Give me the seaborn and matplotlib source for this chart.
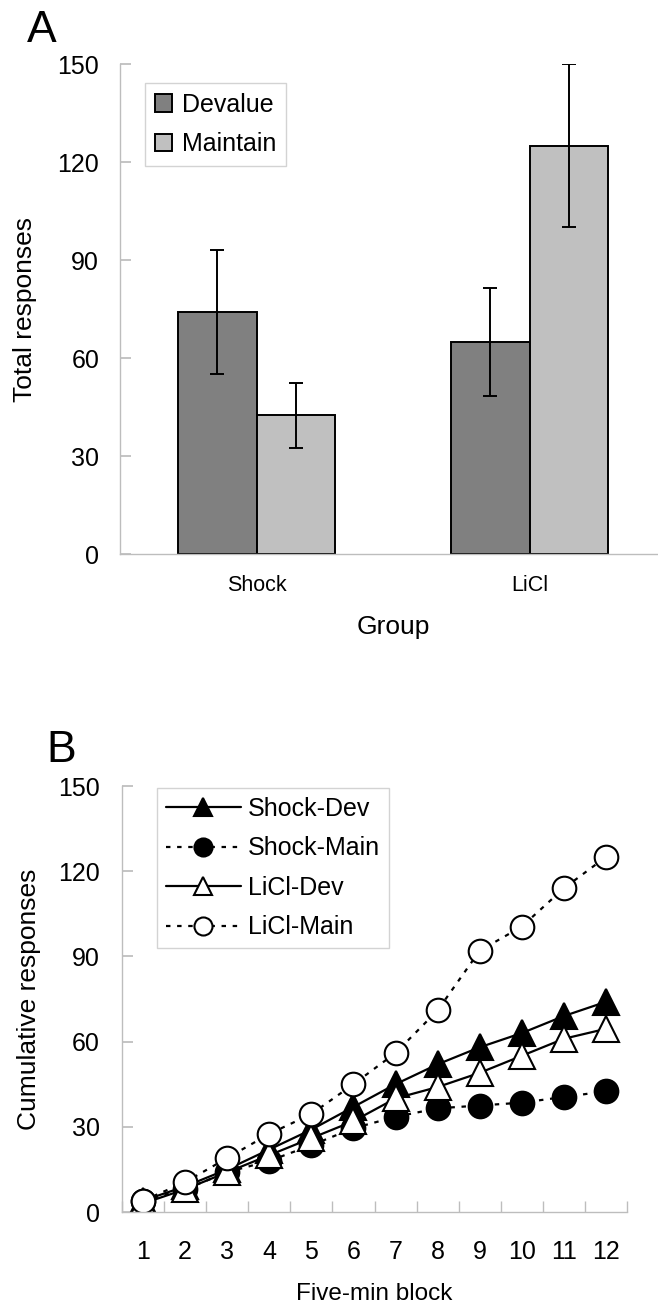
import numpy as np
import pandas as pd
import matplotlib
matplotlib.use("Agg")
import matplotlib.pyplot as plt
import seaborn as sns

# ---------------- data ----------------
groups = ["Shock", "LiCl"]
conditions = ["Devalue", "Maintain"]
total_dev = [74.0, 65.0]
total_main = [42.5, 125.0]
sem_dev = [19.0, 16.5]
sem_main = [10.0, 25.0]

blocks = list(range(1, 13))
shock_dev = [4, 9, 15, 22, 29, 37, 45, 52, 58, 63, 69, 74]
shock_main = [4, 8, 14, 18, 23.5, 29.5, 33.5, 36.5, 37.5, 38.5, 40.5, 42.5]
licl_dev = [3, 8, 14, 20, 26, 32, 40, 44, 49, 55, 61, 64.5]
licl_main = [4, 10.5, 19, 27.5, 34.5, 45, 56, 71, 92, 100.5, 114, 125]
series_names = ["Shock-Dev", "Shock-Main", "LiCl-Dev", "LiCl-Main"]

yticks = [0, 30, 60, 90, 120, 150]

# ---------------- style ----------------
sns.set_theme(style="white")
plt.rcParams["font.family"] = ["Liberation Sans", "DejaVu Sans"]
plt.rcParams["text.color"] = "black"
plt.rcParams["axes.labelcolor"] = "black"
plt.rcParams["xtick.color"] = "black"
plt.rcParams["ytick.color"] = "black"
spine_col = "#bdbdbd"

W, H = 658, 1308
fig = plt.figure(figsize=(W / 100, H / 100), dpi=100)

def fx(px):
    return px / W

def fy(py):
    return 1 - py / H

# ---------------- Panel A ----------------
axL, axR, axT, axB = 120, 666, 64, 554
axA = fig.add_axes([fx(axL), fy(axB), fx(axR - axL), (axB - axT) / H])

df_a = pd.DataFrame({
    "Group": groups * 2,
    "Condition": [conditions[0]] * 2 + [conditions[1]] * 2,
    "Total": total_dev + total_main,
    "SEM": sem_dev + sem_main,
})
sns.barplot(data=df_a, x="Group", y="Total", hue="Condition", order=groups,
            hue_order=conditions, palette=["#808080", "#c0c0c0"],
            width=0.575, errorbar=None, edgecolor="black", linewidth=1.4,
            saturation=1, ax=axA)

# error bars at the centres of the bars seaborn drew
bars = [p for p in axA.patches if p.get_height() > 0]
for p in bars:
    cx = p.get_x() + p.get_width() / 2
    h = p.get_height()
    row = df_a.loc[np.isclose(df_a["Total"], h)].iloc[0]
    axA.errorbar(cx, h, yerr=row["SEM"], color="black", elinewidth=1.4,
                 capsize=5, capthick=1.4, fmt="none", zorder=5)

axA.set_xlim(-0.5, 1.5)
axA.set_ylim(0, 150)
axA.set_yticks(yticks)
axA.tick_params(axis="y", direction="in", length=8, color=spine_col,
                labelsize=18, pad=15, left=True, labelcolor="black")
axA.tick_params(axis="x", length=0, labelsize=15.5, pad=15, labelcolor="black")
for s in ["top", "right"]:
    axA.spines[s].set_visible(False)
for s in ["left", "bottom"]:
    axA.spines[s].set_color(spine_col)
    axA.spines[s].set_linewidth(1.0)
axA.set_ylabel("Total responses", fontsize=19, color="black")
axA.yaxis.set_label_coords(-0.152, 0.5)
axA.set_xlabel("Group", fontsize=19, labelpad=14, color="black")
leg = axA.legend(loc="upper left", bbox_to_anchor=(0.045, 0.962), fontsize=18,
                 frameon=True, fancybox=False, edgecolor="#c8c8c8",
                 handlelength=0.7, handleheight=0.7, handletextpad=0.4,
                 borderpad=0.4, labelspacing=0.62, borderaxespad=0, title=None)
leg.get_frame().set_linewidth(1.0)
fig.text(fx(27), fy(42), "A", fontsize=32, va="baseline", ha="left")

# ---------------- Panel B ----------------
bL, bR, bT, bB = 122, 627, 786, 1212
axB2 = fig.add_axes([fx(bL), fy(bB), fx(bR - bL), (bB - bT) / H])

df_b = pd.DataFrame({
    "Block": blocks * 4,
    "Responses": shock_dev + shock_main + licl_dev + licl_main,
    "Series": np.repeat(series_names, len(blocks)),
})
styles = {
    "Shock-Dev": dict(marker="^", mfc="black", ls="-", ms=19),
    "Shock-Main": dict(marker="o", mfc="black", ls=(0, (2, 3)), ms=17),
    "LiCl-Dev": dict(marker="^", mfc="white", ls="-", ms=19),
    "LiCl-Main": dict(marker="o", mfc="white", ls=(0, (2, 3)), ms=17),
}
for name in series_names:
    st = styles[name]
    sub = df_b[df_b["Series"] == name]
    sns.lineplot(data=sub, x="Block", y="Responses", ax=axB2, color="black",
                 linewidth=1.6, linestyle=st["ls"], marker=st["marker"],
                 markersize=st["ms"], markerfacecolor=st["mfc"],
                 markeredgecolor="black", markeredgewidth=1.5, label=name)

axB2.set_xlim(0.5, 12.5)
axB2.set_ylim(0, 150)
axB2.set_yticks(yticks)
axB2.set_xticks(blocks)
axB2.set_xticks(np.arange(0.5, 13, 1), minor=True)
axB2.tick_params(axis="y", direction="in", length=8, color=spine_col,
                 labelsize=18, pad=16, left=True, labelcolor="black")
axB2.tick_params(axis="x", which="major", length=0, labelsize=18, pad=20,
                 labelcolor="black")
axB2.tick_params(axis="x", which="minor", direction="in", length=8,
                 color=spine_col, bottom=True)
for s in ["top", "right"]:
    axB2.spines[s].set_visible(False)
for s in ["left", "bottom"]:
    axB2.spines[s].set_color(spine_col)
    axB2.spines[s].set_linewidth(1.0)
axB2.set_ylabel("Cumulative responses", fontsize=19, color="black")
axB2.yaxis.set_label_coords(-0.16, 0.5)
axB2.set_xlabel("Five-min block", fontsize=17.5, labelpad=14, color="black")
legB = axB2.legend(loc="upper left", bbox_to_anchor=(0.069, 0.995), fontsize=18,
                   frameon=True, fancybox=False, edgecolor="#c8c8c8",
                   handlelength=3.0, handletextpad=0.3, borderpad=0.35,
                   labelspacing=0.62, borderaxespad=0)
legB.get_frame().set_linewidth(1.0)
for line in legB.get_lines():
    line.set_markersize(13)
fig.text(fx(46), fy(762), "B", fontsize=32, va="baseline", ha="left")

fig.savefig("out.png", dpi=100)
